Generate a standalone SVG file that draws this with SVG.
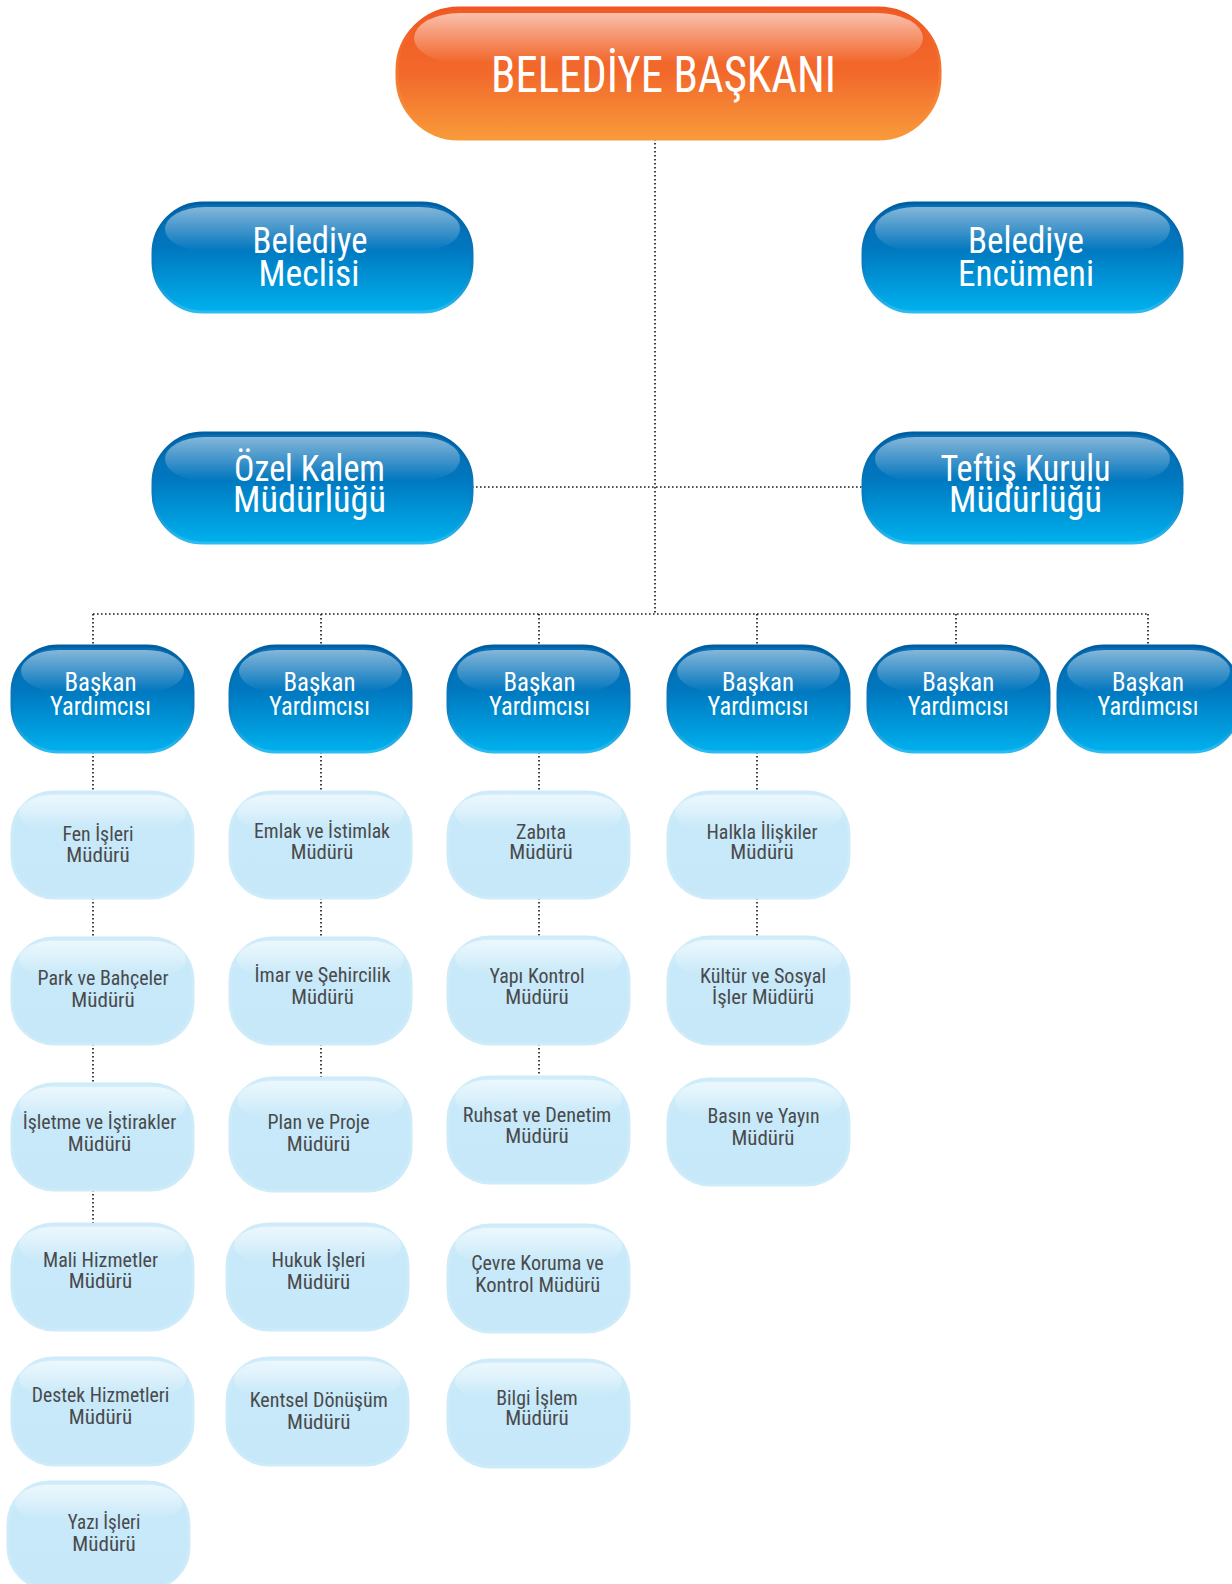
<svg xmlns="http://www.w3.org/2000/svg" width="1232" height="1584" viewBox="0 0 1232 1584">
<defs>
<linearGradient id="gDark" x1="0" y1="0" x2="0" y2="1"><stop offset="0" stop-color="#0a6db3"/><stop offset="0.4" stop-color="#0076be"/><stop offset="1" stop-color="#00b1ee"/></linearGradient>
<linearGradient id="gDarkS" x1="0" y1="0" x2="0" y2="1"><stop offset="0" stop-color="#005fa2"/><stop offset="0.6" stop-color="#0a7fc3"/><stop offset="1" stop-color="#2bbcf0"/></linearGradient>
<linearGradient id="gHi" x1="0" y1="0" x2="0" y2="1"><stop offset="0" stop-color="#ffffff" stop-opacity="0.5"/><stop offset="1" stop-color="#ffffff" stop-opacity="0"/></linearGradient>
<linearGradient id="gOr" x1="0" y1="0" x2="0" y2="1"><stop offset="0" stop-color="#f15a24"/><stop offset="0.5" stop-color="#f2692b"/><stop offset="1" stop-color="#f89a3a"/></linearGradient>
<linearGradient id="gOrS" x1="0" y1="0" x2="0" y2="1"><stop offset="0" stop-color="#f05522"/><stop offset="1" stop-color="#f8993a"/></linearGradient>
<linearGradient id="gOrHi" x1="0" y1="0" x2="0" y2="1"><stop offset="0" stop-color="#ffffff" stop-opacity="0.62"/><stop offset="1" stop-color="#ffffff" stop-opacity="0"/></linearGradient>
<linearGradient id="gLight" x1="0" y1="0" x2="0" y2="1"><stop offset="0" stop-color="#d6effb"/><stop offset="0.3" stop-color="#c7e9f9"/><stop offset="1" stop-color="#c6e8f8"/></linearGradient>
<linearGradient id="gLightHi" x1="0" y1="0" x2="0" y2="1"><stop offset="0" stop-color="#ffffff" stop-opacity="0.55"/><stop offset="1" stop-color="#ffffff" stop-opacity="0"/></linearGradient>
</defs>
<style>
text{font-family:"Liberation Sans Narrow","Arial Narrow","Roboto Condensed","DejaVu Sans Condensed","Liberation Sans",sans-serif;font-stretch:condensed;text-anchor:middle}
.db{fill:url(#gDark);stroke:url(#gDarkS);stroke-width:3}
.dh{fill:url(#gHi)}
.ob{fill:url(#gOr);stroke:url(#gOrS);stroke-width:3}
.oh{fill:url(#gOrHi)}
.lb{fill:url(#gLight);stroke:#cdebf9;stroke-width:3}
.lh{fill:url(#gLightHi)}
.tt{fill:#ffffff;font-size:50px}
.dt{fill:#ffffff;font-size:36px}
.bt{fill:#ffffff;font-size:26px}
.lt{fill:#4a4a4c;font-size:20px}
.con{fill:none;stroke:#1e1e1e;stroke-width:1.7;stroke-dasharray:1.6 2.4}
</style>
<rect width="1232" height="1584" fill="#ffffff"/>

<g id="connectors">
<path class="con" d="M655 139V614M472 487H863M93 614H1148M93 614V646M321 614V646M539 614V646M757 614V646M956 614V646M1148 614V646"/>
<path class="con" d="M93 752V792M93 898V938M93 1044V1084M93 1190V1224"/>
<path class="con" d="M321 752V792M321 898V938M321 1044V1078"/>
<path class="con" d="M539 752V792M539 898V937M539 1044V1077"/>
<path class="con" d="M757 752V792M757 898V937"/>
</g>

<g id="n-baskan">
<rect class="ob" x="397" y="8" width="543" height="131" rx="62"/>
<rect class="oh" x="414" y="13" width="509" height="50" rx="46"/>
<text class="tt" x="663.5" y="92" textLength="345" lengthAdjust="spacingAndGlyphs">BELEDİYE BAŞKANI</text>
</g>

<g id="n-meclis">
<rect class="db" x="153" y="203" width="319" height="109" rx="50"/>
<rect class="dh" x="165" y="207" width="295" height="44" rx="40"/>
<text class="dt" x="310" y="253" textLength="115" lengthAdjust="spacingAndGlyphs">Belediye</text>
<text class="dt" x="309" y="286" textLength="101" lengthAdjust="spacingAndGlyphs">Meclisi</text>
</g>

<g id="n-encumen">
<rect class="db" x="863" y="203" width="319" height="109" rx="50"/>
<rect class="dh" x="875" y="207" width="295" height="44" rx="40"/>
<text class="dt" x="1026" y="253" textLength="116" lengthAdjust="spacingAndGlyphs">Belediye</text>
<text class="dt" x="1026" y="286" textLength="136" lengthAdjust="spacingAndGlyphs">Encümeni</text>
</g>

<g id="n-ozel">
<rect class="db" x="153" y="433" width="319" height="110" rx="50"/>
<rect class="dh" x="165" y="437" width="295" height="44" rx="40"/>
<text class="dt" x="309.5" y="481" textLength="151" lengthAdjust="spacingAndGlyphs">Özel Kalem</text>
<text class="dt" x="309.5" y="512" textLength="153" lengthAdjust="spacingAndGlyphs">Müdürlüğü</text>
</g>

<g id="n-teftis">
<rect class="db" x="863" y="433" width="319" height="110" rx="50"/>
<rect class="dh" x="875" y="437" width="295" height="44" rx="40"/>
<text class="dt" x="1025.5" y="481" textLength="170" lengthAdjust="spacingAndGlyphs">Teftiş Kurulu</text>
<text class="dt" x="1025.5" y="512" textLength="153" lengthAdjust="spacingAndGlyphs">Müdürlüğü</text>
</g>

<g id="n-by1">
<rect class="db" x="12" y="646" width="181" height="106" rx="46"/>
<rect class="dh" x="21" y="650" width="163" height="42" rx="38"/>
<text class="bt" x="100.5" y="691" textLength="72" lengthAdjust="spacingAndGlyphs">Başkan</text>
<text class="bt" x="100.5" y="715" textLength="101" lengthAdjust="spacingAndGlyphs">Yardımcısı</text>
</g>
<g id="n-by2">
<rect class="db" x="230" y="646" width="181" height="106" rx="46"/>
<rect class="dh" x="239" y="650" width="163" height="42" rx="38"/>
<text class="bt" x="319.5" y="691" textLength="72" lengthAdjust="spacingAndGlyphs">Başkan</text>
<text class="bt" x="319.5" y="715" textLength="101" lengthAdjust="spacingAndGlyphs">Yardımcısı</text>
</g>
<g id="n-by3">
<rect class="db" x="448" y="646" width="181" height="106" rx="46"/>
<rect class="dh" x="457" y="650" width="163" height="42" rx="38"/>
<text class="bt" x="539.5" y="691" textLength="72" lengthAdjust="spacingAndGlyphs">Başkan</text>
<text class="bt" x="539.5" y="715" textLength="101" lengthAdjust="spacingAndGlyphs">Yardımcısı</text>
</g>
<g id="n-by4">
<rect class="db" x="668" y="646" width="181" height="106" rx="46"/>
<rect class="dh" x="677" y="650" width="163" height="42" rx="38"/>
<text class="bt" x="758" y="691" textLength="72" lengthAdjust="spacingAndGlyphs">Başkan</text>
<text class="bt" x="758" y="715" textLength="101" lengthAdjust="spacingAndGlyphs">Yardımcısı</text>
</g>
<g id="n-by5">
<rect class="db" x="868" y="646" width="181" height="106" rx="46"/>
<rect class="dh" x="877" y="650" width="163" height="42" rx="38"/>
<text class="bt" x="958.3" y="691" textLength="72" lengthAdjust="spacingAndGlyphs">Başkan</text>
<text class="bt" x="958.3" y="715" textLength="101" lengthAdjust="spacingAndGlyphs">Yardımcısı</text>
</g>
<g id="n-by6">
<rect class="db" x="1058" y="646" width="181" height="106" rx="46"/>
<rect class="dh" x="1067" y="650" width="163" height="42" rx="38"/>
<text class="bt" x="1148" y="691" textLength="72" lengthAdjust="spacingAndGlyphs">Başkan</text>
<text class="bt" x="1148" y="715" textLength="101" lengthAdjust="spacingAndGlyphs">Yardımcısı</text>
</g>

<g id="n-fen">
<rect class="lb" x="12" y="792" width="181" height="106" rx="42"/>
<rect class="lh" x="19" y="795" width="167" height="36" rx="34"/>
<text class="lt" x="98" y="841" textLength="71" lengthAdjust="spacingAndGlyphs">Fen İşleri</text>
<text class="lt" x="98" y="862" textLength="63.5" lengthAdjust="spacingAndGlyphs">Müdürü</text>
</g>
<g id="n-park">
<rect class="lb" x="12" y="938" width="181" height="106" rx="42"/>
<rect class="lh" x="19" y="941" width="167" height="36" rx="34"/>
<text class="lt" x="103" y="985" textLength="131" lengthAdjust="spacingAndGlyphs">Park ve Bahçeler</text>
<text class="lt" x="103" y="1007" textLength="63.5" lengthAdjust="spacingAndGlyphs">Müdürü</text>
</g>
<g id="n-isletme">
<rect class="lb" x="12" y="1084" width="181" height="106" rx="42"/>
<rect class="lh" x="19" y="1087" width="167" height="36" rx="34"/>
<text class="lt" x="99.5" y="1129" textLength="153.5" lengthAdjust="spacingAndGlyphs">İşletme ve İştirakler</text>
<text class="lt" x="99.5" y="1151" textLength="63.5" lengthAdjust="spacingAndGlyphs">Müdürü</text>
</g>
<g id="n-mali">
<rect class="lb" x="12" y="1224" width="181" height="106" rx="42"/>
<rect class="lh" x="19" y="1227" width="167" height="36" rx="34"/>
<text class="lt" x="100.5" y="1267" textLength="115" lengthAdjust="spacingAndGlyphs">Mali Hizmetler</text>
<text class="lt" x="100.5" y="1288" textLength="63.5" lengthAdjust="spacingAndGlyphs">Müdürü</text>
</g>
<g id="n-destek">
<rect class="lb" x="12" y="1358" width="181" height="107" rx="42"/>
<rect class="lh" x="19" y="1361" width="167" height="36" rx="34"/>
<text class="lt" x="100.5" y="1402" textLength="137.5" lengthAdjust="spacingAndGlyphs">Destek Hizmetleri</text>
<text class="lt" x="100.5" y="1424" textLength="63.5" lengthAdjust="spacingAndGlyphs">Müdürü</text>
</g>
<g id="n-yazi">
<rect class="lb" x="8" y="1482" width="181" height="107" rx="42"/>
<rect class="lh" x="15" y="1485" width="167" height="36" rx="34"/>
<text class="lt" x="104" y="1529" textLength="72.5" lengthAdjust="spacingAndGlyphs">Yazı İşleri</text>
<text class="lt" x="104" y="1551" textLength="63.5" lengthAdjust="spacingAndGlyphs">Müdürü</text>
</g>

<g id="n-emlak">
<rect class="lb" x="230" y="792" width="181" height="106" rx="42"/>
<rect class="lh" x="237" y="795" width="167" height="36" rx="34"/>
<text class="lt" x="322" y="838" textLength="136" lengthAdjust="spacingAndGlyphs">Emlak ve İstimlak</text>
<text class="lt" x="322" y="859" textLength="62.5" lengthAdjust="spacingAndGlyphs">Müdürü</text>
</g>
<g id="n-imar">
<rect class="lb" x="230" y="938" width="181" height="106" rx="42"/>
<rect class="lh" x="237" y="941" width="167" height="36" rx="34"/>
<text class="lt" x="322.5" y="982" textLength="136" lengthAdjust="spacingAndGlyphs">İmar ve Şehircilik</text>
<text class="lt" x="322.5" y="1004" textLength="62.5" lengthAdjust="spacingAndGlyphs">Müdürü</text>
</g>
<g id="n-plan">
<rect class="lb" x="230" y="1078" width="181" height="113" rx="44"/>
<rect class="lh" x="237" y="1081" width="167" height="38" rx="36"/>
<text class="lt" x="318.5" y="1129" textLength="102" lengthAdjust="spacingAndGlyphs">Plan ve Proje</text>
<text class="lt" x="318.5" y="1151" textLength="63.5" lengthAdjust="spacingAndGlyphs">Müdürü</text>
</g>
<g id="n-hukuk">
<rect class="lb" x="227" y="1224" width="181" height="106" rx="42"/>
<rect class="lh" x="234" y="1227" width="167" height="36" rx="34"/>
<text class="lt" x="318.5" y="1267" textLength="94" lengthAdjust="spacingAndGlyphs">Hukuk İşleri</text>
<text class="lt" x="318.5" y="1289" textLength="63.5" lengthAdjust="spacingAndGlyphs">Müdürü</text>
</g>
<g id="n-kentsel">
<rect class="lb" x="227" y="1358" width="181" height="107" rx="42"/>
<rect class="lh" x="234" y="1361" width="167" height="36" rx="34"/>
<text class="lt" x="318.7" y="1407" textLength="138" lengthAdjust="spacingAndGlyphs">Kentsel Dönüşüm</text>
<text class="lt" x="318.7" y="1429" textLength="63.5" lengthAdjust="spacingAndGlyphs">Müdürü</text>
</g>

<g id="n-zabita">
<rect class="lb" x="448" y="792" width="181" height="106" rx="42"/>
<rect class="lh" x="455" y="795" width="167" height="36" rx="34"/>
<text class="lt" x="541" y="839" textLength="50" lengthAdjust="spacingAndGlyphs">Zabıta</text>
<text class="lt" x="541" y="859" textLength="63.5" lengthAdjust="spacingAndGlyphs">Müdürü</text>
</g>
<g id="n-yapi">
<rect class="lb" x="448" y="937" width="181" height="107" rx="42"/>
<rect class="lh" x="455" y="940" width="167" height="36" rx="34"/>
<text class="lt" x="537" y="983" textLength="95" lengthAdjust="spacingAndGlyphs">Yapı Kontrol</text>
<text class="lt" x="537" y="1004" textLength="63.5" lengthAdjust="spacingAndGlyphs">Müdürü</text>
</g>
<g id="n-ruhsat">
<rect class="lb" x="448" y="1077" width="181" height="106" rx="42"/>
<rect class="lh" x="455" y="1080" width="167" height="36" rx="34"/>
<text class="lt" x="537" y="1122" textLength="148.5" lengthAdjust="spacingAndGlyphs">Ruhsat ve Denetim</text>
<text class="lt" x="537" y="1143" textLength="63.5" lengthAdjust="spacingAndGlyphs">Müdürü</text>
</g>
<g id="n-cevre">
<rect class="lb" x="448" y="1225" width="181" height="107" rx="42"/>
<rect class="lh" x="455" y="1228" width="167" height="36" rx="34"/>
<text class="lt" x="537.5" y="1270" textLength="132.5" lengthAdjust="spacingAndGlyphs">Çevre Koruma ve</text>
<text class="lt" x="537.8" y="1292" textLength="125" lengthAdjust="spacingAndGlyphs">Kontrol Müdürü</text>
</g>
<g id="n-bilgi">
<rect class="lb" x="448" y="1360" width="181" height="107" rx="42"/>
<rect class="lh" x="455" y="1363" width="167" height="36" rx="34"/>
<text class="lt" x="537" y="1405" textLength="81.5" lengthAdjust="spacingAndGlyphs">Bilgi İşlem</text>
<text class="lt" x="537" y="1425" textLength="63.5" lengthAdjust="spacingAndGlyphs">Müdürü</text>
</g>

<g id="n-halkla">
<rect class="lb" x="668" y="792" width="181" height="106" rx="42"/>
<rect class="lh" x="675" y="795" width="167" height="36" rx="34"/>
<text class="lt" x="762" y="839" textLength="111" lengthAdjust="spacingAndGlyphs">Halkla İlişkiler</text>
<text class="lt" x="762" y="859" textLength="63.5" lengthAdjust="spacingAndGlyphs">Müdürü</text>
</g>
<g id="n-kultur">
<rect class="lb" x="668" y="937" width="181" height="107" rx="42"/>
<rect class="lh" x="675" y="940" width="167" height="36" rx="34"/>
<text class="lt" x="763" y="983" textLength="126" lengthAdjust="spacingAndGlyphs">Kültür ve Sosyal</text>
<text class="lt" x="763" y="1004" textLength="102" lengthAdjust="spacingAndGlyphs">İşler Müdürü</text>
</g>
<g id="n-basin">
<rect class="lb" x="668" y="1079" width="181" height="106" rx="42"/>
<rect class="lh" x="675" y="1082" width="167" height="36" rx="34"/>
<text class="lt" x="763.5" y="1123" textLength="112" lengthAdjust="spacingAndGlyphs">Basın ve Yayın</text>
<text class="lt" x="763" y="1145" textLength="63" lengthAdjust="spacingAndGlyphs">Müdürü</text>
</g>
</svg>
